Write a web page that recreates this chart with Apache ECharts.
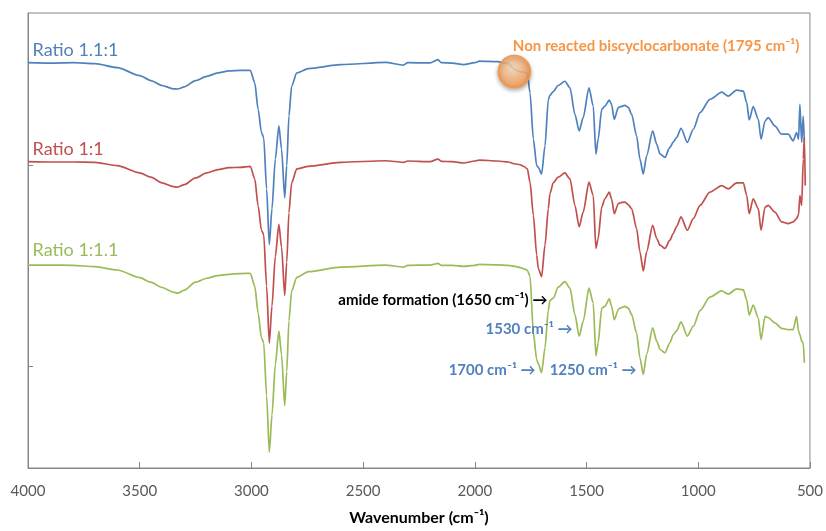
<!DOCTYPE html>
<html>
<head>
<meta charset="utf-8">
<script src="https://cdn.jsdelivr.net/npm/echarts@6.0.0/dist/echarts.min.js"></script>
<style>
  html, body { margin: 0; padding: 0; background: #fff; }
  #container { width: 826px; height: 531px; }
</style>
</head>
<body>
<div id="container"></div>
<script>
// wavenumber grid shared by the three spectra (cm-1)
let wavenumbers = [4000, 3900, 3800, 3700, 3600, 3500, 3450, 3400, 3350, 3330, 3300, 3250, 3200, 3150, 3100, 3050,
    3005, 2985, 2970, 2955, 2945, 2932, 2920, 2908, 2893, 2877, 2865, 2851, 2842, 2832, 2820, 2797, 2745,
    2600, 2400, 2320, 2300, 2200, 2165, 2150, 2100, 2050, 2000, 1980, 1900, 1850, 1820, 1800, 1780, 1765,
    1753, 1738, 1723, 1716, 1701, 1686, 1671, 1664, 1649, 1627, 1597, 1574, 1552, 1533, 1515, 1489, 1470,
    1458, 1448, 1432, 1418, 1398, 1388, 1376, 1358, 1350, 1328, 1313, 1298, 1276, 1261, 1246, 1231, 1204,
    1186, 1171, 1149, 1127, 1112, 1097, 1077, 1049, 1022, 992, 948, 895, 866, 828, 798, 783, 772, 754,
    731, 719, 701, 687, 657, 627, 597, 575, 560, 551, 545, 537, 530, 525, 521];

// offset transmittance (a.u.)
let ratio_11_1 = [408, 407.5, 408, 407, 403, 395, 390, 385, 381.7, 381.5, 383.7, 390, 394.3, 397.7, 399.7, 400.3,
    400.3, 387.7, 361, 337.7, 332.7, 281, 225, 261, 311, 344.3, 321, 272, 304.3, 354.3, 384.3, 397.7, 402,
    406, 408.3, 405.5, 408, 407.7, 411, 408, 407.5, 406, 408, 409.5, 409, 407, 401, 399, 398.5, 397,
    377.7, 331, 304.3, 302.7, 296, 324.3, 371, 375, 379, 385, 389.3, 382.7, 356, 339.3, 352.7, 382.7, 364.3,
    316, 331, 361, 364.3, 370.3, 366, 351, 362.7, 363.5, 365, 363, 356, 334.3, 311, 296, 314.3, 339.3,
    326, 316, 312.7, 322.7, 328, 332.7, 342, 327.7, 341, 357.7, 371, 378.3, 374.3, 380.3, 379.3, 367.7, 350.3, 363.7,
    351, 331, 349.3, 352.7, 344.3, 336, 336, 329.3, 337.7, 331, 366, 327.7, 354.3, 327.7, null];

let ratio_1_1 = [308.3, 308, 308, 307.7, 304.3, 297, 292.7, 287, 283.3, 282.7, 285.3, 292, 297, 300.3, 302.3, 302.7,
    303.7, 291, 264, 239.3, 235, 183, 126, 163, 213, 245.3, 222, 173.7, 207, 257, 287, 301, 303.7,
    307.7, 309.3, 307.7, 309, 308.3, 311, 308.7, 308.3, 307, 309, 310, 309, 308, 306, 305.5, 303.5, 301,
    287.7, 254.3, 214.3, 201, 192.7, 224.3, 261, 276, 287, 292.7, 297, 291, 264.3, 242.7, 257.7, 287.7, 274.3,
    221, 231, 262.7, 271, 277.7, 271, 256, 266, 267, 267.7, 265, 261, 241, 217.7, 198.3, 217.7, 244.3,
    231, 224.3, 221, 229.3, 236, 243, 252.7, 239.3, 251, 264.3, 277.7, 284.3, 281, 287, 287, 274.3, 256, 271,
    261, 239.3, 262.7, 264.3, 257.7, 247.7, 246, 247.7, 251, 255, 274.3, 264.3, 311, 332.7, 284.3];

let ratio_1_11 = [204.3, 204.3, 204, 202.7, 199.3, 191.7, 187, 181.7, 177, 176, 179, 187, 191, 193.7, 195, 195.7,
    196, 183, 156, 131, 126, 73, 16, 53, 104, 137.7, 114, 62.7, 97, 148, 178, 192, 197.7,
    202.3, 204.3, 202.3, 204, 204.3, 206, 204, 204, 203, 204, 205, 204.5, 204, 203, 202, 200.5, 199,
    193, 136, 109, 105, 96, 121, 159, 168.5, 171, 182, 187.7, 181, 154.3, 132.7, 147.7, 181, 166,
    112.7, 126, 161, 162.7, 170.3, 163, 149.3, 159.3, 161, 162.7, 161, 154.3, 136, 111, 94.3, 114.3, 141,
    127.7, 119.3, 116, 126, 134, 138, 147, 132.7, 142.7, 158.5, 172, 178.3, 175, 180.3, 179.3, 169, 154, 164,
    151, 129.3, 152.7, 151.5, 146, 140.5, 139.3, 139.3, 152.7, 137.7, 134.3, 127.7, 126, 106, null];

let seriesNames = ['Ratio 1.1:1', 'Ratio 1:1', 'Ratio 1:1.1'];
let seriesColors = ['#4F81BD', '#C0504D', '#9BBB59'];
let xTicks = [4000, 3500, 3000, 2500, 2000, 1500, 1000, 500];

let dom = document.getElementById('container');
let myChart = echarts.init(dom, null, { renderer: 'canvas' });

function pairs(values) {
    return wavenumbers.map(function (w, i) {
        return [w, values[i]];
    });
}

function textMark(coord, text, color, position, size, weight) {
    return {
        coord: coord,
        symbol: 'circle',
        symbolSize: 1,
        itemStyle: { color: 'rgba(0,0,0,0)' },
        label: {
            show: true,
            position: position,
            distance: 0,
            formatter: text,
            color: color,
            fontSize: size,
            fontWeight: weight,
            fontFamily: 'Lato'
        }
    };
}

let allValues = [ratio_11_1, ratio_1_1, ratio_1_11];
let labelLevels = [420.5, 321, 219.3];

let series = allValues.map(function (vals, k) {
    let marks = [textMark([3982, labelLevels[k]], seriesNames[k], seriesColors[k], 'right', 18, 'normal')];
    if (k === 0) {
        marks.push({
            coord: [1823, 399],
            symbol: 'circle',
            symbolSize: 32,
            itemStyle: {
                color: {
                    type: 'radial', x: 0.45, y: 0.4, r: 0.6,
                    colorStops: [
                        { offset: 0, color: 'rgba(252,222,190,0.8)' },
                        { offset: 1, color: 'rgba(246,150,70,0.85)' }
                    ]
                },
                borderColor: '#F79646',
                borderWidth: 1.5,
                shadowBlur: 4,
                shadowColor: 'rgba(0,0,0,0.35)',
                shadowOffsetY: 2
            },
            label: { show: false }
        });
        marks.push(textMark([545, 424.3], 'Non reacted biscyclocarbonate (1795 cm⁻¹)', '#F79646', 'left', 15, 'bold'));
    }
    if (k === 2) {
        marks.push(textMark([1673, 169.3], 'amide formation (1650 cm⁻¹) →', '#000000', 'left', 15, 'bold'));
        marks.push(textMark([1561, 139.3], '1530 cm⁻¹ →', '#4F81BD', 'left', 15, 'bold'));
        marks.push(textMark([1726, 98.7], '1700 cm⁻¹ →', '#4F81BD', 'left', 15, 'bold'));
        marks.push(textMark([1274, 98.7], '1250 cm⁻¹ →', '#4F81BD', 'left', 15, 'bold'));
    }
    return {
        name: seriesNames[k],
        type: 'line',
        showSymbol: false,
        symbol: 'none',
        smooth: 0.25,
        smoothMonotone: 'x',
        connectNulls: false,
        lineStyle: { color: seriesColors[k], width: 1.7 },
        itemStyle: { color: seriesColors[k] },
        data: pairs(vals),
        markPoint: {
            silent: true,
            animation: false,
            data: marks
        }
    };
});

let option = {
    animation: false,
    textStyle: { fontFamily: 'Lato' },
    grid: {
        left: 28,
        right: 15,
        top: 13,
        bottom: 60,
        show: true,
        borderColor: '#868686',
        borderWidth: 1
    },
    xAxis: {
        type: 'value',
        inverse: true,
        min: 500,
        max: 4000,
        interval: 500,
        name: 'Wavenumber (cm⁻¹)',
        nameLocation: 'middle',
        nameGap: 42,
        nameTextStyle: { fontSize: 16, fontWeight: 'bold', color: '#000', fontFamily: 'Lato' },
        axisLine: { lineStyle: { color: '#868686', width: 1 } },
        axisTick: { inside: true, length: 6, lineStyle: { color: '#868686' }, customValues: xTicks },
        axisLabel: {
            fontSize: 15, color: '#595959', margin: 16, fontFamily: 'Lato', customValues: xTicks,
            formatter: function (v) { return String(v); }
        },
        splitLine: { show: false }
    },
    yAxis: {
        type: 'value',
        min: 0,
        max: 458,
        axisLine: { show: true, lineStyle: { color: '#868686', width: 1 } },
        axisTick: { show: true, inside: true, length: 5, lineStyle: { color: '#868686' }, customValues: [102, 305] },
        axisLabel: { show: false },
        splitLine: { show: false }
    },
    series: series
};

myChart.setOption(option);
</script>
</body>
</html>
